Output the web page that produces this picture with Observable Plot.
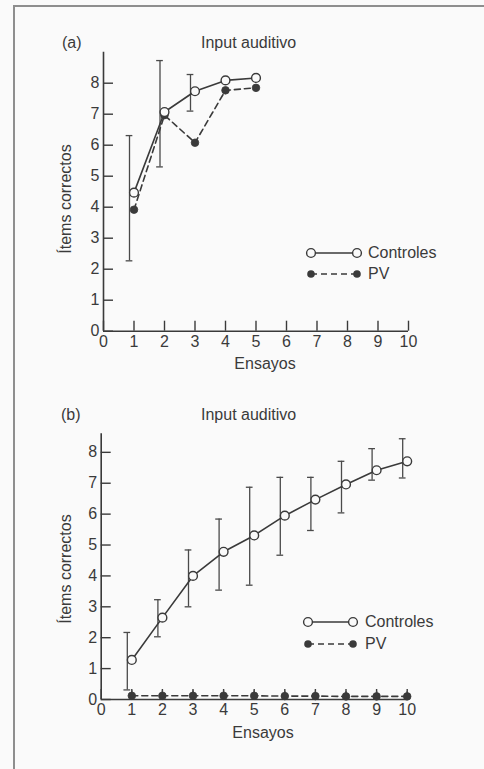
<!DOCTYPE html>
<html>
<head>
<meta charset="utf-8">
<script src="https://cdn.jsdelivr.net/npm/d3@7"></script>
<script src="https://cdn.jsdelivr.net/npm/@observablehq/plot@0.6"></script>
<style>
  body { margin: 0; background: #fafafa; }
  #page { position: relative; width: 484px; height: 769px; overflow: hidden;
          font-family: "Liberation Sans", Arial, sans-serif; color: #3a3a3a; background: #fafafa; }
  .rule-top { position: absolute; left: 13px; top: 5px; right: 0; height: 2px; background: #8e8e8e; }
  .rule-left { position: absolute; left: 13px; top: 5px; bottom: 0; width: 2px; background: #8e8e8e; }
  .panel { position: absolute; left: 0; width: 484px; }
  .lbl { position: absolute; font-size: 16px; line-height: 16px; white-space: nowrap; }
  .ylbl { position: absolute; font-size: 16px; line-height: 16px; white-space: nowrap;
          transform: translate(-50%, -50%) rotate(-90deg); }
</style>
</head>
<body>
<div id="page">
  <div class="rule-top"></div>
  <div class="rule-left"></div>
</div>
<script>
// Panel (a): auditory input, 5 trials
const trialsA = [1, 2, 3, 4, 5];
const controlesA = [4.47, 7.07, 7.74, 8.09, 8.17];
const pvA = [3.92, 6.97, 6.08, 7.77, 7.85];
const errTrialsA = [1, 2, 3];
const errLowA = [2.27, 5.30, 7.10];
const errHighA = [6.31, 8.73, 8.28];

// Panel (b): auditory input, 10 trials
const trialsB = [1, 2, 3, 4, 5, 6, 7, 8, 9, 10];
const controlesB = [1.28, 2.65, 4.00, 4.78, 5.31, 5.95, 6.47, 6.96, 7.42, 7.71];
const errLowB = [0.31, 2.03, 3.00, 3.54, 3.70, 4.67, 5.47, 6.04, 7.10, 7.17];
const errHighB = [2.17, 3.23, 4.84, 5.84, 6.87, 7.19, 7.19, 7.71, 8.12, 8.44];
const pvB = [0.12, 0.12, 0.12, 0.12, 0.12, 0.11, 0.11, 0.10, 0.10, 0.10];
const pvErrHighB = [0.28, 0.28, 0.28, 0.28, 0.28, 0.27, 0.27, 0.26, 0.26, 0.26];

// Axis ticks and labels
const xTicks = [0, 1, 2, 3, 4, 5, 6, 7, 8, 9, 10];
const yTicks = [0, 1, 2, 3, 4, 5, 6, 7, 8];
const panelTitle = "Input auditivo";
const xLabel = "Ensayos";
const yLabel = "Ítems correctos";
const seriesNames = ["Controles", "PV"];

const ink = "#3a3a3a";
const paper = "#fafafa";
const dash = "6,4";
const page = document.getElementById("page");

function rows(xs, ys) { return xs.map((x, i) => ({trial: x, value: ys[i]})); }
function errRows(xs, lo, hi) { return xs.map((x, i) => ({trial: x, lo: lo[i], hi: hi[i]})); }

function drawPanel(opts) {
  const ctrl = rows(opts.trials, opts.controles);
  const pv = rows(opts.pvTrials, opts.pv);
  const err = errRows(opts.errTrials, opts.errLow, opts.errHigh);
  const pvErr = opts.pvErrHigh ? errRows(opts.pvTrials, opts.pv.map(() => 0), opts.pvErrHigh) : [];
  const cap = 0.11;
  const chart = Plot.plot({
    width: 484,
    height: opts.height,
    marginTop: opts.marginTop,
    marginBottom: opts.marginBottom,
    marginLeft: opts.marginLeft,
    marginRight: opts.marginRight,
    x: {domain: [0, 10]},
    y: {domain: [0, opts.yTop]},
    style: {fontFamily: '"Liberation Sans", Arial, sans-serif', fontSize: "16px", color: ink, background: "transparent", overflow: "visible"},
    marks: [
      Plot.ruleY([0], {stroke: ink, strokeWidth: 1.6}),
      Plot.ruleX([0], {stroke: ink, strokeWidth: 1.6}),
      Plot.axisX(xTicks, {tickSize: -10, tickPadding: 14, label: null, stroke: ink, strokeWidth: 1.4, fontSize: 16}),
      Plot.axisY(yTicks, {tickSize: -10, tickPadding: 14, label: null, stroke: ink, strokeWidth: 1.4, fontSize: 16}),
      // error bars
      Plot.ruleX(err, {x: "trial", y1: "lo", y2: "hi", dx: -4.5, stroke: "#4a4a4a", strokeWidth: 1.3}),
      Plot.ruleY(err, {y: "hi", x1: d => d.trial - cap, x2: d => d.trial + cap, dx: -4.5, stroke: "#4a4a4a", strokeWidth: 1.3}),
      Plot.ruleY(err, {y: "lo", x1: d => d.trial - cap, x2: d => d.trial + cap, dx: -4.5, stroke: "#4a4a4a", strokeWidth: 1.3}),
      Plot.ruleX(pvErr, {x: "trial", y1: "lo", y2: "hi", stroke: "#4a4a4a", strokeWidth: 1.3}),
      // PV series: dashed line, filled dots
      Plot.line(pv, {x: "trial", y: "value", stroke: ink, strokeWidth: 1.6, strokeDasharray: dash}),
      Plot.dot(pv, {x: "trial", y: "value", r: 3.8, fill: ink, stroke: ink, strokeWidth: 0.8}),
      // Controls: solid line, open circles
      Plot.line(ctrl, {x: "trial", y: "value", stroke: ink, strokeWidth: 1.6}),
      Plot.dot(ctrl, {x: "trial", y: "value", r: 4.4, fill: paper, stroke: ink, strokeWidth: 1.4})
    ]
  });
  const wrap = document.createElement("div");
  wrap.className = "panel";
  wrap.style.top = opts.top + "px";
  wrap.appendChild(chart);
  page.appendChild(wrap);
}

function addText(cls, text, left, top) {
  const el = document.createElement("div");
  el.className = cls;
  el.textContent = text;
  el.style.left = left + "px";
  el.style.top = top + "px";
  page.appendChild(el);
  return el;
}

function addCentered(text, cx, cy) {
  const el = addText("lbl", text, cx, cy);
  el.style.transform = "translate(-50%, -50%)";
}

function addLegend(x0, x1, yRow1, yRow2, textX) {
  const svg = d3.create("svg")
    .attr("width", 484).attr("height", 769)
    .style("position", "absolute").style("left", "0px").style("top", "0px")
    .style("overflow", "visible");
  // Controles entry
  svg.append("line").attr("x1", x0).attr("x2", x1).attr("y1", yRow1).attr("y2", yRow1)
    .attr("stroke", ink).attr("stroke-width", 1.6);
  for (const cx of [x0, x1]) {
    svg.append("circle").attr("cx", cx).attr("cy", yRow1).attr("r", 4.4)
      .attr("fill", paper).attr("stroke", ink).attr("stroke-width", 1.4);
  }
  // PV entry
  svg.append("line").attr("x1", x0).attr("x2", x1).attr("y1", yRow2).attr("y2", yRow2)
    .attr("stroke", ink).attr("stroke-width", 1.6).attr("stroke-dasharray", dash);
  for (const cx of [x0, x1]) {
    svg.append("circle").attr("cx", cx).attr("cy", yRow2).attr("r", 3.8).attr("fill", ink);
  }
  page.appendChild(svg.node());
  addText("lbl", seriesNames[0], textX, yRow1 - 8);
  addText("lbl", seriesNames[1], textX, yRow2 - 8);
}

// Panel (a)
drawPanel({
  top: 0, height: 380,
  marginTop: 51.7, marginBottom: 49.3, marginLeft: 103, marginRight: 76,
  yTop: 9,
  trials: trialsA, controles: controlesA,
  pvTrials: trialsA, pv: pvA,
  errTrials: errTrialsA, errLow: errLowA, errHigh: errHighA
});
addText("lbl", "(a)", 62, 35);
addText("lbl", panelTitle, 201, 35);
addCentered(xLabel, 265, 364);
addText("ylbl", yLabel, 66, 199);
addLegend(311, 357, 253, 274, 368);

// Panel (b)
drawPanel({
  top: 380, height: 389,
  marginTop: 53.3, marginBottom: 70, marginLeft: 100.7, marginRight: 77.3,
  yTop: 8.6,
  trials: trialsB, controles: controlesB,
  pvTrials: trialsB, pv: pvB, pvErrHigh: pvErrHighB,
  errTrials: trialsB, errLow: errLowB, errHigh: errHighB
});
addText("lbl", "(b)", 61, 407);
addText("lbl", panelTitle, 201, 407);
addCentered(xLabel, 263, 733);
addText("ylbl", yLabel, 65.5, 569);
addLegend(308, 353, 622, 644, 365);
</script>
</body>
</html>
